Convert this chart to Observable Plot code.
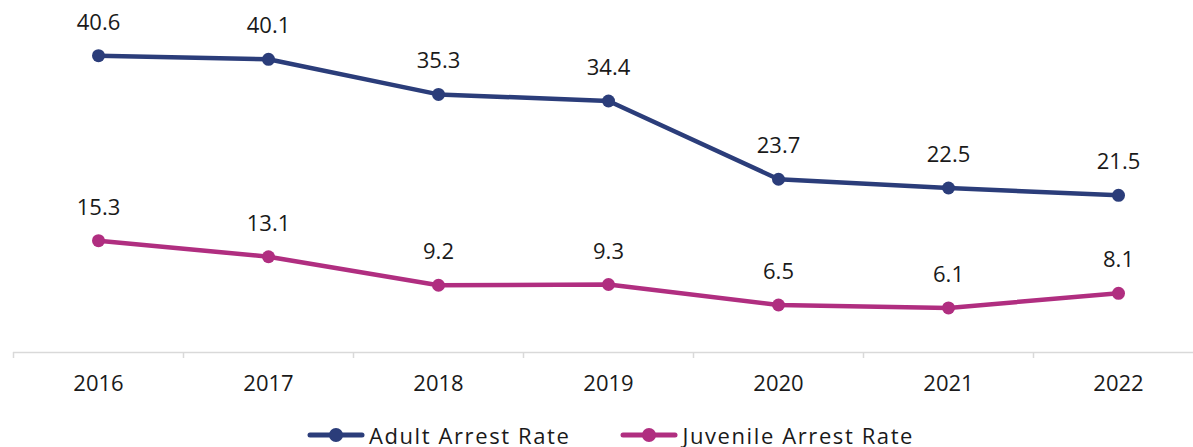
<!DOCTYPE html>
<html>
<head>
<meta charset="utf-8">
<script src="https://cdn.jsdelivr.net/npm/d3@7"></script>
<script src="https://cdn.jsdelivr.net/npm/@observablehq/plot@0.6"></script>
<style>
  html, body { margin: 0; padding: 0; background: #fff; }
  body { width: 1193px; height: 447px; overflow: hidden; font-family: "Open Sans", sans-serif; }
  #legend { display: flex; justify-content: center; align-items: center; height: 40px; margin-top: 3px; margin-left: 28px; gap: 50px; font-size: 22px; letter-spacing: 1.6px; color: #1a1a1a; }
  #legend .item { display: flex; align-items: center; gap: 4px; }
</style>
</head>
<body>
<div id="chart"></div>
<div id="legend"></div>
<script>
const years = [2016, 2017, 2018, 2019, 2020, 2021, 2022];
const adultRate = [40.6, 40.1, 35.3, 34.4, 23.7, 22.5, 21.5];
const juvenileRate = [15.3, 13.1, 9.2, 9.3, 6.5, 6.1, 8.1];
const seriesNames = ["Adult Arrest Rate", "Juvenile Arrest Rate"];
const seriesColors = ["#2b3d7a", "#b02e80"];

const boundaries = [...years.map(y => y - 0.5), years[years.length - 1] + 0.5];

const rows = [];
years.forEach((yr, i) => {
  rows.push({year: yr, value: adultRate[i], series: seriesNames[0]});
  rows.push({year: yr, value: juvenileRate[i], series: seriesNames[1]});
});

const colorOf = s => seriesColors[seriesNames.indexOf(s)];

const chart = Plot.plot({
  width: 1193,
  height: 412,
  marginTop: 23,
  marginBottom: 60,
  marginLeft: 13,
  marginRight: 0,
  style: {fontFamily: "Open Sans, sans-serif", background: "#fff", overflow: "visible"},
  x: {domain: [boundaries[0], boundaries[boundaries.length - 1]], range: [13, 1203], label: null},
  y: {domain: [0, 45], axis: null, label: null},
  marks: [
    Plot.ruleY([0], {x1: boundaries[0], x2: boundaries[boundaries.length - 1], stroke: "#d9d9d9", strokeWidth: 1.5}),
    Plot.axisX({ticks: boundaries, tickSize: 6, tickFormat: () => "", stroke: "#d9d9d9", strokeWidth: 1.5, label: null}),
    Plot.axisX({ticks: years, tickSize: 0, tickPadding: 23, tickFormat: d => String(d), fontSize: 22, fill: "#1a1a1a", label: null}),
    ...seriesNames.map(s => Plot.line(rows.filter(d => d.series === s), {x: "year", y: "value", stroke: colorOf(s), strokeWidth: 4.5})),
    ...seriesNames.map(s => Plot.dot(rows.filter(d => d.series === s), {x: "year", y: "value", fill: colorOf(s), r: 6.5})),
    Plot.text(rows, {x: "year", y: "value", text: d => d.value.toFixed(1), dy: -33, fontSize: 22, fill: "#1a1a1a"})
  ]
});
document.getElementById("chart").appendChild(chart);

const legend = document.getElementById("legend");
seriesNames.forEach((s, i) => {
  const item = document.createElement("div");
  item.className = "item";
  const c = seriesColors[i];
  item.innerHTML = `<svg width="58" height="16"><line x1="3" y1="8" x2="55" y2="8" stroke="${c}" stroke-width="5" stroke-linecap="round"/><circle cx="29" cy="8" r="7" fill="${c}"/></svg><span>${s}</span>`;
  legend.appendChild(item);
});
</script>
</body>
</html>
